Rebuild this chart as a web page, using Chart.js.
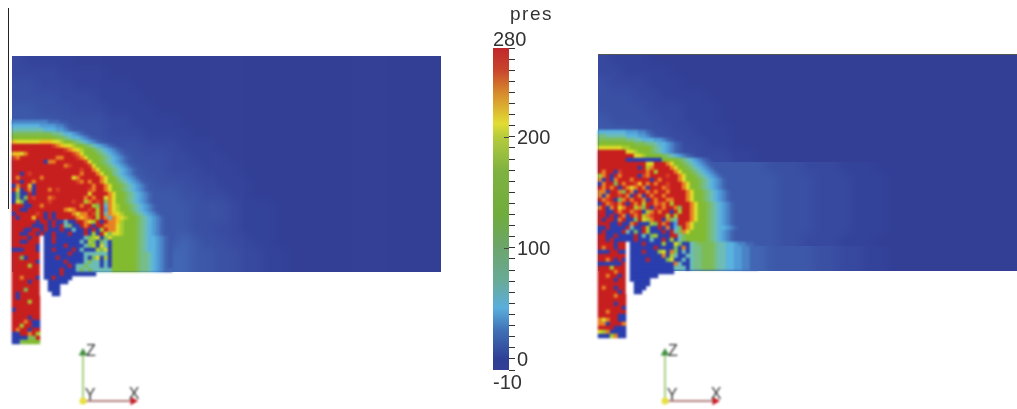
<!DOCTYPE html>
<html><head><meta charset="utf-8">
<style>
html,body{margin:0;padding:0;background:#fff;width:1017px;height:409px;overflow:hidden}
canvas{position:absolute;left:0;top:0}
#farA{clip-path:path("M12 56H441V272H12Z M598 54H1060V162H598Z");filter:blur(5px)}
#farB{clip-path:path("M598 162H1060V246H598Z");filter:blur(5px)}
#farC{clip-path:path("M598 246H1060V271H598Z");filter:blur(5px)}
#field{filter:blur(0.8px)}
#lines{filter:blur(0.3px)}
#bar{left:470px;filter:blur(0.6px)}
</style>
<script src="https://cdn.jsdelivr.net/npm/chart.js@4"></script>
</head><body>
<canvas id="farA" width="1060" height="409"></canvas>
<canvas id="farB" width="1060" height="409"></canvas>
<canvas id="farC" width="1060" height="409"></canvas>
<canvas id="field" width="1017" height="409"></canvas>
<canvas id="lines" width="1017" height="409"></canvas>
<canvas id="bar" width="100" height="409"></canvas>
<script>
// pressure level for each letter of the cell rows
const levelKeys = "abcdefghijklmnopqrst";
const pressLevels = [-10,-6,-2,3,8,14,25,35,45,65,85,110,150,195,215,225,240,260,280,-10];
const levelColors = ["#323f95","#34439a","#37499f","#3a50a3","#3d58a9","#4266b3","#4a82c6","#509cd6","#5ab2de","#6dbdb6","#76bd88","#7dbc55","#82bb30","#a9cc2e","#dcdc28","#f0c020","#e88024","#d84024","#c71f1f","#2b3eae"];

const leftFarRows = [
"cbbbbaaaa","ccccbbbbaaaaa","ddcccbbbbbaaa","ddddcccbbbbaa","eedddcccbbbbaaa","eeeeddddccbbbbaaa",
"eeeeeeddcccbbbbaaa","eeeeeeeedddcccbbbaaaa","eeeeeeeeeedddccbbbaaa","eeeeeeeeeeeddcccbbbaaa",
"eeeeeeeeeeeedddccbbbaaa","eeeeeeeeeeeeeeddccbbaaa","eeeeeeeeeeeeeeedddcbbbaaa","eeeeeeeeeeeeeeedddcbbbaaa",
"eeeeeeeeeeeeeeeddccbbbaaa","eeeeeeeeeeeeeefeddccbbaaa","eeeeeeeeeeeeeffeeddccbbaaa","eeeeeeeeeeeeeffeeddccbbaaa"];

const leftNearRows = [
"gggggggggfffee",
"iiiiiiihhhhggfe",
"jjjjjjjjiiihhgfe",
"llllllllllkkjiihgfe",
"mmmmmmmmmmmllkjiihgfe",
"poooooopppoonmmlkjihgfe",
"ssssssssssrqpoonmmlkjihgfe",
"sssssssssssssrqponmmlkjihgfe",
"ppoqsssssssssssrqommmlkjihgfe",
"rqsssssssssqqsssrqommmlkjihgfe",
"sssssssstqqsssssssrommlkjihgfe",
"sssssssssssssqrssssrommlkjihgfe",
"sssssssssssssssssrssqommlkjihgfe",
"sstsrssssssssssssqsssqommkjihgfe",
"sqsssssqsssssssoqsssssqommkjihgfe",
"sstssqssssssssssrqsqssqommlkjihgfe",
"tqssptssssssssssssssqssqommlkjihgfe",
"sptsqtsssqsrsssssssrqssqommlkjihgfe",
"tlttstsssssssssssssossssqommlkjihgfe",
"tltlsrsssqrsssssssqsqssoqommlkjihgfe",
"toltsssssrsssssrssnqsrslqommlkjihgfe",
"sssttssqsssssssssqssnlsiqonmmlkjihgfe",
"ssttsssssssssqpqsssrsnshqonmmlkjihgfe",
"tsssssrststssssqoqqsrnsjqponmmlkjihgfe",
"stssspsststsssssqpqrsnsqiqponmmlkjihgfe",
"sssssstsststtjttssqonstsqqpnmmmlkjihgfe",
"ssssstttststsjlttsqstssqqqonmmmlkjihgfe",
"sssttsststttsttjttststnsqqonmmmlkjihgfe",
"ssttsststtstttstttstntsoloonmmmlkjihgfe",
"sssstsswttstttttttjlnotlommmmmmlkjiihgfe",
"ssttssswttsttttttjtnltljtmmmmmmlkjiihgfe",
"sssssstwtttttsttttjlntojtmmmmmmlkjiihgfe",
"tttssstwttsttttstjtttnlotmmmmmmlkjiihgfe",
"ssssssswttttttstttjjjjjjtmmmmmmlkkjihgfe",
"ssltssswtttsttttttjtlotntmmmmmmlkkjihgfe",
"sssssstwtttttsttttjljjtjtmmmmmmlkkjihgfe",
"ssssnsswttttttstjjljjjtjtmmmmmmlkkjihgfe",
"ssssssswttttstttjljljjjjjmmmmmmlkkjihgff",
"ssssssswttttstttttttt",
"ssqssstwttstttt",
"sssstsswwttttt",
"ssssssswwttt",
"ssslssswwttt",
"stssssswwwtt",
"stsssss",
"ssssnss",
"sssssss",
"tssssss",
"sssssss",
"sssstss",
"sssqstt",
"ssnsstt",
"sqsstss",
"ttssqsn",
"ttttlls",
"ttlmmmm"
];

const rightFarTopRows = [
"cbbbaaa","ccbbbbaaa","dcccbbbaaa","dddccbbbbaa","ddddcccbbbaa","eddddccbbbaaa",
"eeedddccbbbaaa","eeeeeddccbbaaa","eeeeeeddcccbbaaa"];
const rightFarMidRows = [
"eeeeeeeeeeeeeedddcccbbbaaa","eeeeeeeeeeeeeeedddcccbbbaa","eeeeeeeeeeeeeeedddcccbbbaa",
"eeeeeeeeeeeeeeedddcccbbbaa","eeeeeeeeeeeeeeedddcccbbbaa","eeeeeeeeeeeeeeedddcccbbbaa",
"eeeeeeeeeeeeeeeddcccbbbaaa"];
const rightFarLowRows = ["ffffffffffffffeeeeddccbbaaa","ffffffffffffffeeeeddccbbaaa"];

const rightNearRows = [
"iiiiiiihhhggfe",
"kkjjjjjiiihhgfe",
"lllllllkkjjiiihhgfe",
"mmmmmmmmmlllkkjiihgfe",
"oooooonnmmmmmlkjihgfe",
"sssssssoonmmmlkjihgfe",
"sssssssssoonmmmmlkjihgfe",
"ssssssstttttttttmmmmlkjihgfe",
"ssssssssssssoosssqommlkjihgfe",
"sssssssssstsnqssssqommlkjihgfe",
"sqsstrssssssqsnssssqommlkjihgfe",
"nqstsqsssstrqssssrssqommlkjihgfe",
"qtstqsssqsssstsqssssqommmlkjihgfe",
"tqsslsqssrpsqsqssrsssqommlkjihgfe",
"sqsqstsqoqsqtsssqrsssqommlkjihgfe",
"qqtssqlsqtssqsqssqssssqommlkjihgfe",
"qtqssrsqtsqtsqssqsssssqommlkjihgfe",
"sqrstlqsqssqtsqssqqsssqommlkjihgfe",
"tsqrsqstsqsnssqrqsnssssqommlkjihgfe",
"qstqsoqssnqlstrsqssqlssqommlkjihgfe",
"ssttsqssqrstnqsqsstsnssqommlkjihgfe",
"sststsqtsqsnqrsssnsnsssqommlkjihgfe",
"stsstqsttlsonqsstqljsssqommlkjihgfe",
"sssttsttqstttnlsqsthssqommmlkjihgfe",
"ttsttttsjttsnttstqtilsqommmlkjiihgfe",
"tsttttsjtltsntttstsjlqommmmlkjihgfe",
"ssttsttttstjtlntttssjlmmmmmlkjihgfe",
"sststttttstttjttstntjlmmmmmlkjihgfe",
"sssstsswtttsttttnttolttjkllllkjjiihggffe",
"sqsstsswttttttsttttltqtjkklllkjjiihhggff",
"tttssttwtttstttnotqltjtjkklllkjjiihhggff",
"ssssssswttttttttqtnjttjjkklllkjjiihhggff",
"ssqststwttttsttttlottjtjkklllkjjiihhggff",
"ttttttswtttttttttttqjttjkklllkjjiihhggff",
"sssnssswtttttttttttjjjtjkklllkjjiihhggff",
"ssssqsswttttttttttt",
"ssqsstswttttttt",
"sssstsswttttt",
"ssssssswwtttt",
"sqsstsswwttt",
"ssssstswwtt",
"ssssqss",
"sssssss",
"sssstss",
"sssssst",
"ssqssss",
"ssssstt",
"qoqsstt",
"qqtsssq",
"ssssttt",
"onqtttt",
"tttnqtt"
];

// colour bar
const barTickValues = [0,100,200];
const barEndLabels = ["280","-10"];
const barStopValues = [-10,0,25,46,70,100,130,170,200,212,240,260,280];
const barStopColors = ["#323f95","#2f3f96","#3f6fb5","#5aaedc","#68aa98","#6ca56c","#70ac3c","#7fb240","#b6cc3c","#e2dc34","#d6882c","#c8452c","#c1272d"];

// orientation triads: origin, tips of the Z and X axes
const triadOrigins = [[83,401],[665,401]];
const triadLength = {z:48,x:50};
const sideLine = [[8.5,8],[8.5,209]];
const rightTopEdge = [[598,54.5],[1017,54.5]];

function colorOf(key){ const i=levelKeys.indexOf(key); return i<0?"#ffffff":levelColors[i]; }
function cells(rows,x0,y0,cw,ch){
  const out=[];
  rows.forEach((row,r)=>{
    for(let c=0;c<row.length;c++){
      const k=row[c],i=levelKeys.indexOf(k);
      out.push({x:x0+cw*(c+.5),y:y0+ch*(r+.5),k:k,v:i<0?null:pressLevels[i]});
    }
  });
  return out;
}
// far-field rows: short rows continue at the deepest level; the border cells repeat past the clip edge
function farCells(rows,x0,y0,cw,ch,cols){
  const out=[],m=3,n=rows.length;
  for(let r=-m;r<n+m;r++){
    const row=rows[Math.max(0,Math.min(n-1,r))];
    for(let c=-m;c<cols+m;c++){
      const k=row[Math.max(0,Math.min(cols-1,c))]||"a";
      out.push({x:x0+cw*(c+.5),y:y0+ch*(r+.5),k:k,v:pressLevels[levelKeys.indexOf(k)]});
    }
  }
  return out;
}
function cellSet(data,side,order){
  return {type:"scatter",data,pointStyle:"rect",pointRadius:(side+0.5)/Math.SQRT2,pointBorderWidth:0,
    pointBackgroundColor:c=>c.raw?colorOf(c.raw.k):"#fff",showLine:false,order};
}
function lineSet(pts,color,width,order){
  return {type:"scatter",data:pts.map(p=>({x:p[0],y:p[1]})),showLine:true,borderColor:color,borderWidth:width,pointRadius:0,order};
}
function fieldChart(id,w,datasets,plugins){
  return new Chart(document.getElementById(id),{
    type:"scatter",data:{datasets},plugins:plugins||[],
    options:{responsive:false,animation:false,events:[],
      layout:{padding:0,autoPadding:false},
      plugins:{legend:{display:false},tooltip:{enabled:false},title:{display:false}},
      scales:{x:{type:"linear",min:0,max:w,display:false},y:{type:"linear",min:0,max:409,reverse:true,display:false}}
    }
  });
}
fieldChart("farA",1060,[cellSet(farCells(leftFarRows,12,56,429/36,12,36),12,5),cellSet(farCells(rightFarTopRows,598,54,12,12,35),12,5)]);
fieldChart("farB",1060,[cellSet(farCells(rightFarMidRows,598,162,12,12,35),12,5)]);
fieldChart("farC",1060,[cellSet(farCells(rightFarLowRows,598,246,12,12,35),12,5)]);

const ds=[];
ds.push(cellSet(cells(leftNearRows,12,120,4,4),4,3));
ds.push(cellSet(cells(rightNearRows,598,130,4,4),4,3));
triadOrigins.forEach(o=>{
  ds.push(lineSet([o,[o[0],o[1]-triadLength.z]],"#8cc05a",1.5,1));
  ds.push(lineSet([o,[o[0]+triadLength.x,o[1]]],"#9a5a5a",1.5,1));
  ds.push({type:"scatter",data:[{x:o[0],y:o[1]-triadLength.z}],pointStyle:"triangle",pointRadius:5,pointBackgroundColor:"#3f8f3f",pointBorderWidth:0,order:0});
  ds.push({type:"scatter",data:[{x:o[0]+triadLength.x,y:o[1]}],pointStyle:"triangle",pointRotation:90,pointRadius:5,pointBackgroundColor:"#c81e28",pointBorderWidth:0,order:0});
  ds.push({type:"scatter",data:[{x:o[0],y:o[1]}],pointStyle:"circle",pointRadius:3.5,pointBackgroundColor:"#e8e040",pointBorderWidth:0,order:0});
});
const triadText={id:"triadText",afterDatasetsDraw(ch){
  const c=ch.ctx,X=ch.scales.x,Y=ch.scales.y;
  c.save();c.font="16px 'Liberation Sans'";c.fillStyle="#333";c.textAlign="center";c.textBaseline="middle";
  triadOrigins.forEach(o=>{
    c.fillText("Z",X.getPixelForValue(o[0]+8),Y.getPixelForValue(o[1]-49));
    c.fillText("Y",X.getPixelForValue(o[0]+7),Y.getPixelForValue(o[1]-5));
    c.fillText("X",X.getPixelForValue(o[0]+51),Y.getPixelForValue(o[1]-6));
  });
  c.restore();
}};
fieldChart("field",1017,ds,[triadText]);
fieldChart("lines",1017,[lineSet(sideLine,"#222",1,1),lineSet(rightTopEdge,"#555",1,1)]);

const barText={id:"barText",afterDraw(ch){
  const c=ch.ctx,a=ch.chartArea,Y=ch.scales.y;
  c.save();c.fillStyle="#333";c.textBaseline="middle";
  c.font="20px 'Liberation Sans'";c.textAlign="left";
  c.fillText(barEndLabels[0],a.left,Y.getPixelForValue(280)-8);
  c.fillText(barEndLabels[1],a.left,Y.getPixelForValue(-10)+13);
  barTickValues.forEach(v=>c.fillText(String(v),a.right+8,Y.getPixelForValue(v)+2));
  c.font="19px 'Liberation Sans'";c.letterSpacing="1.5px";
  c.fillText("pres",40,15);
  c.letterSpacing="0px";
  c.strokeStyle="#444";c.lineWidth=1;
  barTickValues.filter(v=>v>0).forEach(v=>{const y=Math.round(Y.getPixelForValue(v))+.5;c.beginPath();c.moveTo(a.right-5,y);c.lineTo(a.right,y);c.stroke();});
  c.restore();
}};
new Chart(document.getElementById("bar"),{
  type:"bar",
  data:{labels:["pres"],datasets:[{data:[[-10,280]],barPercentage:1,categoryPercentage:1,borderWidth:0,
    backgroundColor:ctx=>{
      const y=ctx.chart.scales.y;
      const p0=y&&y.getPixelForValue(-10),p1=y&&y.getPixelForValue(280);
      if(!Number.isFinite(p0)||!Number.isFinite(p1)) return "#888";
      const g=ctx.chart.ctx.createLinearGradient(0,p0,0,p1);
      barStopValues.forEach((v,i)=>g.addColorStop((v+10)/290,barStopColors[i]));
      return g;
    }}]},
  plugins:[barText],
  options:{responsive:false,animation:false,events:[],
    layout:{padding:{left:23,top:48,bottom:39,right:0},autoPadding:false},
    plugins:{legend:{display:false},tooltip:{enabled:false}},
    scales:{
      x:{display:false},
      y:{position:"right",min:-10,max:280,
        afterFit:s=>{s.width=61;},
        border:{display:false},
        grid:{drawOnChartArea:false,drawTicks:true,tickLength:6,tickColor:"#333",tickWidth:1},
        ticks:{stepSize:10,autoSkip:false,display:true,padding:0,color:"rgba(0,0,0,0)",font:{size:1},callback:()=>""}
      }
    }
  }
});
</script>
</body></html>
